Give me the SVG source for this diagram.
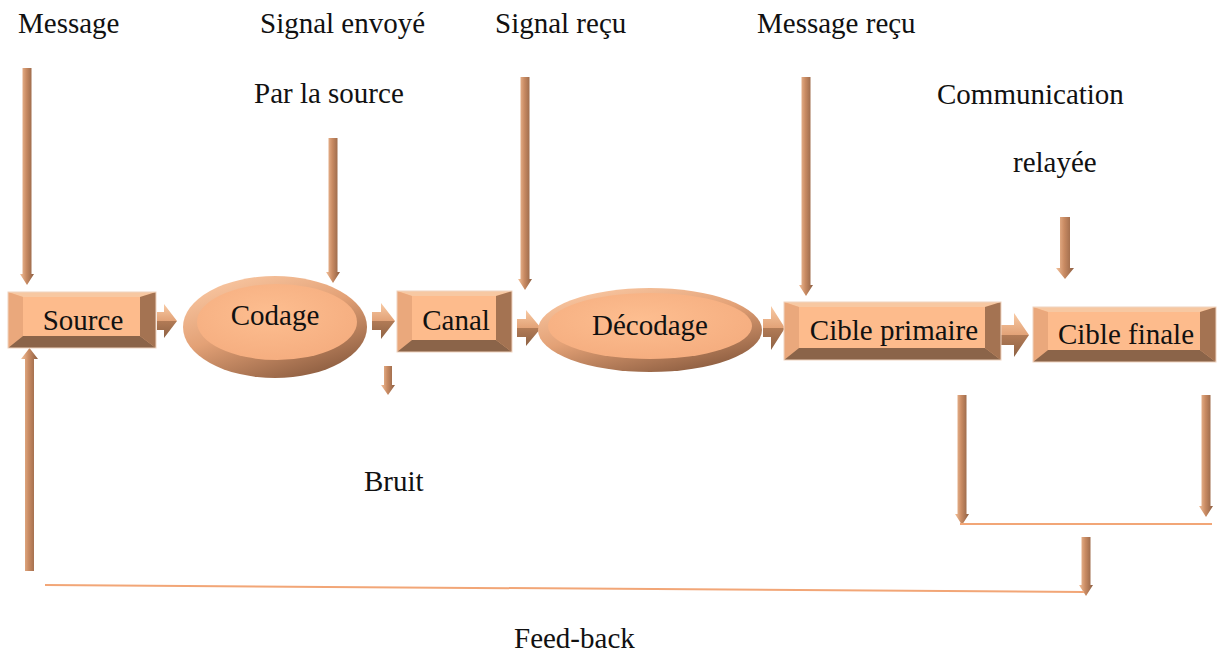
<svg xmlns="http://www.w3.org/2000/svg" width="1220" height="653" viewBox="0 0 1220 653">
  <defs>
    <!-- shading for vertical arrows (light left edge, dark right edge) -->
    <linearGradient id="gShaftV" x1="0" y1="0" x2="1" y2="0">
      <stop offset="0" stop-color="#f4c29c"/>
      <stop offset="0.45" stop-color="#c98b63"/>
      <stop offset="1" stop-color="#8c5e42"/>
    </linearGradient>
    <!-- shading for horizontal block arrows (light top, dark bottom) -->
    <linearGradient id="gShaftH" x1="0" y1="0" x2="0" y2="1">
      <stop offset="0" stop-color="#f8caa4"/>
      <stop offset="0.5" stop-color="#e2a277"/>
      <stop offset="0.5" stop-color="#b27b56"/>
      <stop offset="1" stop-color="#8e6244"/>
    </linearGradient>
    <!-- ellipse rim: light top-left, dark bottom-right -->
    <linearGradient id="gRim" x1="0.2" y1="0" x2="0.8" y2="1">
      <stop offset="0" stop-color="#f9c7a2"/>
      <stop offset="0.45" stop-color="#e3a176"/>
      <stop offset="1" stop-color="#87593d"/>
    </linearGradient>
    <radialGradient id="gFace" cx="0.45" cy="0.4" r="0.7">
      <stop offset="0" stop-color="#fdbe90"/>
      <stop offset="1" stop-color="#f4ab7d"/>
    </radialGradient>
    <style>
      text { font-family: "Liberation Serif", "DejaVu Serif", serif; font-size: 29px; fill: #111; }
      .ntx { text-anchor: middle; }
      .face { fill: #fdbb8c; }
      .bt { fill: #f7c8a2; }
      .bl { fill: #eaa87c; }
      .br { fill: #a47352; }
      .bb { fill: #8b6449; }
      .frame { fill: none; stroke: #efd3bf; stroke-width: 1; }
      .va { fill: url(#gShaftV); }
      .ha { fill: url(#gShaftH); }
      .ln { stroke: #f2a677; stroke-width: 2; fill: none; }
    </style>
  </defs>

  <rect width="1220" height="653" fill="#ffffff"/>

  <!-- labels -->
  <g id="labels" font-family="Liberation Serif, serif">
    <text x="18" y="33">Message</text>
    <text x="260" y="33">Signal envoyé</text>
    <text x="254" y="103">Par la source</text>
    <text x="495" y="33">Signal reçu</text>
    <text x="757" y="33">Message reçu</text>
    <text x="937" y="104">Communication</text>
    <text x="1013" y="172">relayée</text>
    <text x="364" y="491">Bruit</text>
    <text x="514" y="648">Feed-back</text>
  </g>

  <!-- connectors -->
  <g id="connectors">
    <!-- vertical arrows pointing down -->
    <path class="va" d="M22.5 68 H31.5 V274 H34 L27 285 L20 274 H22.5 Z"/>
    <path class="va" d="M328.5 138 H337.5 V272 H340 L333 283 L326 272 H328.5 Z"/>
    <path class="va" d="M520.5 77 H529.5 V279 H532 L525 290 L518 279 H520.5 Z"/>
    <path class="va" d="M801.5 77 H810.5 V285 H813 L806 296 L799 285 H801.5 Z"/>
    <path class="va" d="M1060 217 H1070 V268 H1074 L1065 279 L1056 268 H1060 Z"/>
    <path class="va" d="M384 366 H392 V385 H395 L388 395 L381 385 H384 Z"/>
    <path class="va" d="M957.5 395 H966.5 V514 H969 L962 525 L955 514 H957.5 Z"/>
    <path class="va" d="M1201.5 395 H1210.5 V506 H1213 L1206 517 L1199 506 H1201.5 Z"/>
    <path class="va" d="M1081.5 537 H1090.5 V585 H1093 L1086 596 L1079 585 H1081.5 Z"/>
    <!-- feedback arrow pointing up to the source -->
    <path class="va" d="M25 571 H34 V359 H38 L29.5 348 L21 359 H25 Z"/>

    <!-- joining lines -->
    <line class="ln" x1="960" y1="524" x2="1212" y2="524"/>
    <line class="ln" x1="45" y1="585" x2="1084" y2="592"/>

    <!-- block arrows between the stages -->
    <path class="ha" d="M157 312 H164 V304 L177 321 L164 338 V330 H157 Z"/>
    <path class="ha" d="M372 312 H381 V303 L395 321 L381 339 V330 H372 Z"/>
    <path class="ha" d="M517 319 H526 V310 L541 328 L526 346 V337 H517 Z"/>
    <path class="ha" d="M763 319 H771 V306 L785 328 L771 350 V337 H763 Z"/>
    <path class="ha" d="M1001 325 H1014 V313 L1029 335 L1014 357 V345 H1001 Z"/>
  </g>

  <!-- Source -->
  <g id="source">
    <rect class="face" x="8" y="292" width="148" height="56"/>
    <polygon class="bt" points="8,292 156,292 140,297 23,297"/>
    <polygon class="bl" points="8,292 23,297 23,336 8,348"/>
    <polygon class="br" points="156,292 156,348 140,336 140,297"/>
    <polygon class="bb" points="8,348 23,336 140,336 156,348"/>
    <rect class="frame" x="8" y="292" width="148" height="56"/>
    <text class="ntx" x="83" y="330">Source</text>
  </g>

  <!-- Codage -->
  <g id="codage">
    <ellipse cx="275" cy="327" rx="92" ry="51" fill="url(#gRim)"/>
    <ellipse cx="277" cy="322" rx="80" ry="38" fill="url(#gFace)"/>
    <text class="ntx" x="275" y="325">Codage</text>
  </g>

  <!-- Canal -->
  <g id="canal">
    <rect class="face" x="397" y="291" width="115" height="61"/>
    <polygon class="bt" points="397,291 512,291 496,296 412,296"/>
    <polygon class="bl" points="397,291 412,296 412,340 397,352"/>
    <polygon class="br" points="512,291 512,352 496,340 496,296"/>
    <polygon class="bb" points="397,352 412,340 496,340 512,352"/>
    <rect class="frame" x="397" y="291" width="115" height="61"/>
    <text class="ntx" x="456" y="330">Canal</text>
  </g>

  <!-- Décodage -->
  <g id="decodage">
    <ellipse cx="650" cy="330" rx="112" ry="42" fill="url(#gRim)"/>
    <ellipse cx="650" cy="326" rx="102" ry="33" fill="url(#gFace)"/>
    <text class="ntx" x="650" y="335">Décodage</text>
  </g>

  <!-- Cible primaire -->
  <g id="cible-primaire">
    <rect class="face" x="784" y="302" width="217" height="58"/>
    <polygon class="bt" points="784,302 1001,302 985,307 799,307"/>
    <polygon class="bl" points="784,302 799,307 799,348 784,360"/>
    <polygon class="br" points="1001,302 1001,360 985,348 985,307"/>
    <polygon class="bb" points="784,360 799,348 985,348 1001,360"/>
    <rect class="frame" x="784" y="302" width="217" height="58"/>
    <text class="ntx" x="894" y="340">Cible primaire</text>
  </g>

  <!-- Cible finale -->
  <g id="cible-finale">
    <rect class="face" x="1033" y="307" width="183" height="55"/>
    <polygon class="bt" points="1033,307 1216,307 1200,312 1048,312"/>
    <polygon class="bl" points="1033,307 1048,312 1048,350 1033,362"/>
    <polygon class="br" points="1216,307 1216,362 1200,350 1200,312"/>
    <polygon class="bb" points="1033,362 1048,350 1200,350 1216,362"/>
    <rect class="frame" x="1033" y="307" width="183" height="55"/>
    <text class="ntx" x="1126" y="344">Cible finale</text>
  </g>
</svg>
